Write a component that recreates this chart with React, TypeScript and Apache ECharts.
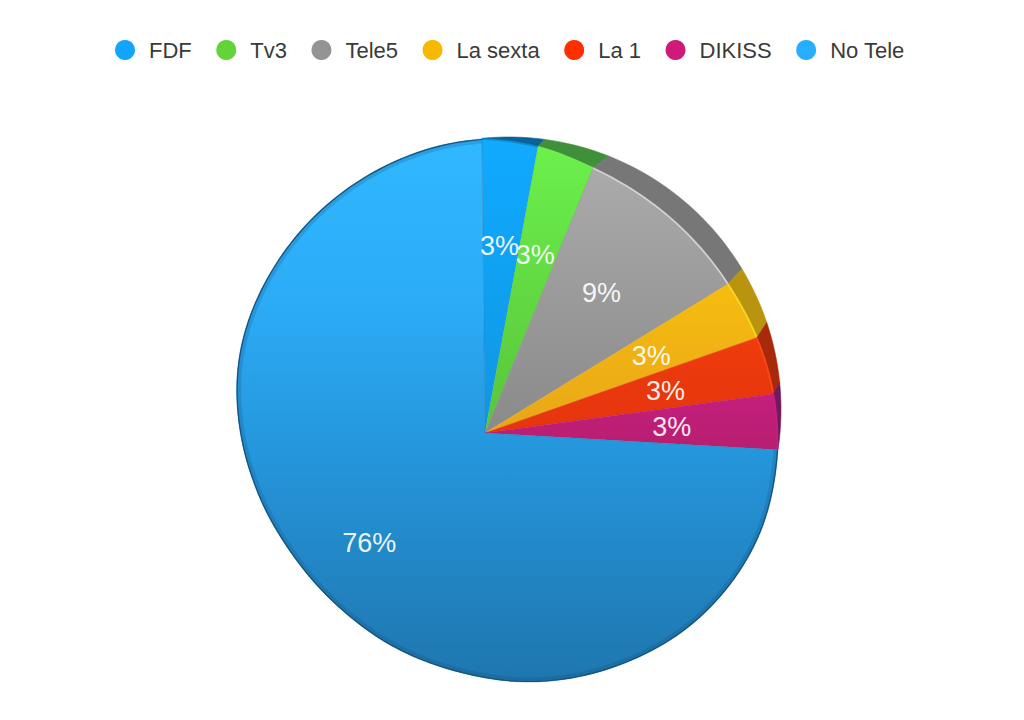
import React, { useEffect, useRef } from "react";
import * as echarts from "echarts";

const channelNames = ["FDF", "Tv3", "Tele5", "La sexta", "La 1", "DIKISS", "No Tele"];
const channelShares = [3.08, 3.25, 10.08, 3.39, 3.22, 3.06, 73.92];
const channelLabels = ["3%", "3%", "9%", "3%", "3%", "3%", "76%"];
const legendColors = ["#12a5ff", "#62d43a", "#949494", "#f8b800", "#ff2f00", "#cf1a7a", "#28aeff"];
const faceTopColors = ["#10aaff", "#6cf04c", "#aaaaaa", "#f6bd10", "#ee3c0c", "#c41f7c", "#30b8ff"];
const faceBottomColors = ["#0f96e2", "#58c43a", "#8a8a8a", "#e8a618", "#e6340f", "#b81e70", "#1f76ae"];
const rimColors = ["#0c6199", "#40903a", "#777777", "#b8940f", "#a92a0a", "#701a5c", "#155a88"];
const glossColors = ["#0c88cc", "#72f055", "#dcdcdc", "#ffdc20", "#ff4a18", "#c8207e", "#155a88"];

const APEX = { x: 485, y: 433 };
const DISC = { x: 508.5, y: 409.5, r: 272.5 };
const START_ANGLE = -0.6;

const faceKnots: number[][] = [
  [-0.6, 294], [10.5, 291], [22.2, 286], [40, 284], [58.5, 285], [70.7, 288], [82.3, 291], [93.9, 293],
];
const rimKnots: number[][] = [
  [-0.6, -0.6], [10.5, 11.5], [22.2, 24.1], [58.5, 57.5], [70.7, 68.6], [82.3, 80.3], [93.9, 93.9],
];
const outlineKnots: number[][] = [
  [93.3, 293.5], [111.5, 292.3], [131.4, 282.7], [149.8, 268.4], [169.8, 253], [186.4, 240.5],
  [203.5, 232.5], [220.2, 227.5], [238.1, 228], [255, 235], [267.9, 243.2], [288.3, 258],
  [308.7, 268.9], [330.8, 280.7], [350.7, 290.8], [359.4, 294],
];

function smooth(knots: number[][], t: number): number {
  if (t <= knots[0][0]) return knots[0][1];
  const n = knots.length;
  if (t >= knots[n - 1][0]) return knots[n - 1][1];
  let i = 0;
  while (t > knots[i + 1][0]) i++;
  const slope = (a: number, b: number) => (knots[b][1] - knots[a][1]) / (knots[b][0] - knots[a][0]);
  const m0 = i > 0 ? slope(i - 1, i + 1) : slope(i, i + 1);
  const m1 = i < n - 2 ? slope(i, i + 2) : slope(i, i + 1);
  const h = knots[i + 1][0] - knots[i][0];
  const u = (t - knots[i][0]) / h;
  const u2 = u * u;
  const u3 = u2 * u;
  return (2 * u3 - 3 * u2 + 1) * knots[i][1] + (u3 - 2 * u2 + u) * h * m0 +
    (-2 * u3 + 3 * u2) * knots[i + 1][1] + (u3 - u2) * h * m1;
}

function dir(angle: number) {
  const a = (angle * Math.PI) / 180;
  return { x: Math.sin(a), y: -Math.cos(a) };
}

function discRadius(angle: number): number {
  const d = dir(angle);
  const ox = APEX.x - DISC.x;
  const oy = APEX.y - DISC.y;
  const b = ox * d.x + oy * d.y;
  const c = ox * ox + oy * oy - DISC.r * DISC.r;
  return -b + Math.sqrt(b * b - c);
}

function at(angle: number, r: number): number[] {
  const d = dir(angle);
  return [APEX.x + d.x * r, APEX.y + d.y * r];
}

const total = channelShares.reduce((s, v) => s + v, 0);

function sampleAngles(a0: number, a1: number): number[] {
  const n = Math.max(8, Math.ceil((a1 - a0) / 1.5));
  const out: number[] = [];
  for (let i = 0; i <= n; i++) out.push(a0 + ((a1 - a0) * i) / n);
  return out;
}

function makeRenderItem(index: number) {
  return (_params: any, api: any) => {
    const before = channelShares.slice(0, index).reduce((s, v) => s + v, 0);
    const a0 = START_ANGLE + (before / total) * 360;
    const a1 = a0 + (api.value(0) / total) * 360;
    const isMain = index === channelShares.length - 1;
    const angles = sampleAngles(a0, a1);
    const faceR = (a: number) => (isMain ? smooth(outlineKnots, a) : smooth(faceKnots, a));
    const arc = angles.map((a) => at(a, faceR(a)));
    const stops = isMain
      ? [
          { offset: 0, color: faceTopColors[index] },
          { offset: 0.3, color: "#2cacf6" },
          { offset: 0.55, color: "#2598de" },
          { offset: 1, color: faceBottomColors[index] },
        ]
      : [
          { offset: 0, color: faceTopColors[index] },
          { offset: 1, color: faceBottomColors[index] },
        ];
    const fill = new echarts.graphic.LinearGradient(0, 0, 0, 1, stops);
    const children: any[] = [];
    if (!isMain) {
      const outer = angles.map((a) => {
        const oa = smooth(rimKnots, a);
        return at(oa, discRadius(oa));
      });
      children.push({
        type: "polygon",
        shape: { points: [...arc, ...outer.reverse()] },
        style: { fill: rimColors[index], stroke: rimColors[index], lineWidth: 0.6 },
      });
    }
    children.push({
      type: "polygon",
      shape: { points: [[APEX.x, APEX.y], ...arc] },
      style: { fill, stroke: faceBottomColors[index], lineWidth: 0.4 },
    });
    if (isMain) {
      children.push({
        type: "polyline",
        shape: { points: angles.map((a) => at(a, faceR(a) - 2.5)) },
        style: { fill: "none", stroke: "rgba(20,70,110,0.2)", lineWidth: 4 },
      });
      children.push({
        type: "polyline",
        shape: { points: angles.map((a) => at(a, faceR(a) - 0.5)) },
        style: { fill: "none", stroke: "#14527c", lineWidth: 1.2 },
      });
    } else {
      children.push({
        type: "polyline",
        shape: { points: arc },
        style: { fill: "none", stroke: glossColors[index], lineWidth: 1.8, opacity: 0.85 },
      });
    }
    const mid = (a0 + a1) / 2;
    const labelAngle = isMain ? mid : mid + (mid < 45 ? -0.5 : 0.5);
    const labelPos = at(labelAngle, (isMain ? 0.705 : 0.64) * faceR(mid));
    children.push({
      type: "text",
      z2: 100,
      x: labelPos[0],
      y: labelPos[1],
      style: {
        text: channelLabels[index],
        fill: "rgba(255,255,255,0.93)",
        font: '27px "Liberation Sans", Arial, sans-serif',
        align: "center",
        verticalAlign: "middle",
      },
    });
    return { type: "group", children };
  };
}

export default function App() {
  const ref = useRef<HTMLDivElement>(null);
  useEffect(() => {
    const chart = echarts.init(ref.current as HTMLDivElement, undefined, { renderer: "svg" });
    chart.setOption({
      animation: false,
      backgroundColor: "#ffffff",
      legend: {
        left: 115,
        top: 39,
        padding: 0,
        itemWidth: 20,
        itemHeight: 20,
        itemGap: 24.5,
        icon: "circle",
        selectedMode: false,
        data: channelNames.map((name, i) => ({ name, itemStyle: { color: legendColors[i] } })),
        textStyle: {
          color: "#3a3a3a",
          fontFamily: '"Liberation Sans", Arial, sans-serif',
          fontSize: 22,
          padding: [0, 0, 0, 9],
        },
      },
      series: channelNames.map((name, i) => ({
        type: "custom",
        name,
        coordinateSystem: "none",
        silent: true,
        itemStyle: { color: legendColors[i] },
        data: [[channelShares[i]]],
        renderItem: makeRenderItem(i),
      })),
    });
    return () => chart.dispose();
  }, []);
  return <div ref={ref} style={{ position: "absolute", left: 0, top: 0, width: 1024, height: 720 }} />;
}
